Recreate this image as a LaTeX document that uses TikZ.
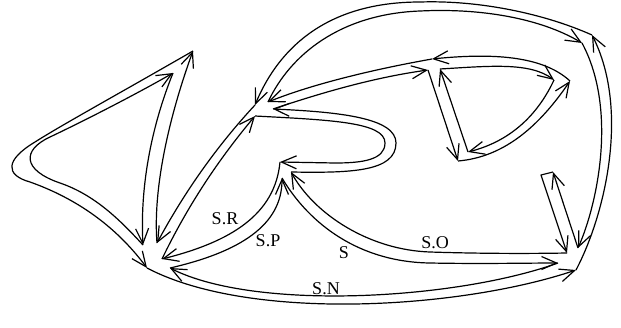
\documentclass[tikz,border=0pt]{standalone}
\usepackage{fontspec}
\setmainfont{Liberation Serif}
\usetikzlibrary{arrows.meta}

\begin{document}
\begin{tikzpicture}[x=1pt,y=-1pt,line width=1.2pt,line join=round,
  >={Straight Barb[length=15pt,width=13pt]},
  lbl/.style={font=\fontsize{18}{21}\selectfont,inner sep=0pt}]

  \useasboundingbox (0,0) rectangle (621,327);

  % corners at the vertices
  \coordinate (Ao1) at (147,268);
  \coordinate (Al) at (143,245);
  \coordinate (Ao2) at (157,243);
  \coordinate (A3) at (162,259);
  \coordinate (A4) at (170,268);
  \coordinate (Bo) at (193,51);
  \coordinate (Bl) at (173,73);
  \coordinate (Co) at (255,105);
  \coordinate (C5a) at (268,102);
  \coordinate (C5b) at (273,109);
  \coordinate (C3) at (255,116);
  \coordinate (D3) at (280,162);
  \coordinate (D4) at (282,178);
  \coordinate (D5) at (291,172);
  \coordinate (E5a) at (432,59);
  \coordinate (E5b) at (428,70);
  \coordinate (E6) at (440,69);
  \coordinate (Fo) at (592,35);
  \coordinate (F5) at (582,43);
  \coordinate (G6) at (554,80);
  \coordinate (G5) at (570,81);
  \coordinate (H5) at (458,161);
  \coordinate (H6) at (468,152);
  \coordinate (I5a) at (578,248);
  \coordinate (I5b) at (567,253);
  \coordinate (I4) at (558,263);
  \coordinate (Io) at (576,270);
  \coordinate (Jr) at (553,172);
  \coordinate (Jl) at (541,175);

  % outer face
  \draw[->] (Io) .. controls (605,215) and (630,110) .. (Fo);
  \draw[->] (Fo) .. controls (545,14) and (480,0) .. (420,2) .. controls (330,2) and (280,45) .. (Co);
  \draw[->] (Co) .. controls (216,147) and (184,193) .. (Ao2);
  \draw[->] (Ao2) .. controls (152,180) and (175,100) .. (Bo);
  \draw[->] (Bo) .. controls (120,93) and (60,126) .. (35,142) .. controls (5,160) and (5,175) .. (30,182)
    .. controls (75,198) and (115,225) .. (Ao1);
  \draw[->] (Ao1) .. controls (250,322) and (460,309) .. (Io);

  % inside the left loop
  \draw[->] (Al) .. controls (120,220) and (95,195) .. (60,183) .. controls (22,170) and (22,150) .. (50,137)
    .. controls (90,118) and (140,92) .. (Bl);
  \draw[->] (Bl) .. controls (150,130) and (140,190) .. (Al);

  % face of S.R
  \draw[->] (A3) .. controls (187,207) and (218,160) .. (C3);
  \draw[->] (C3) .. controls (330,120) and (385,122) .. (385,143) .. controls (385,160) and (362,163) .. (335,163) -- (D3);
  \draw[->] (D3) .. controls (275,215) and (230,242) .. (A3);

  % face of S.P, S, S.N
  \draw[->] (I4) .. controls (455,300) and (255,311) .. (A4);
  \draw[->] (A4) .. controls (240,252) and (282,225) .. (D4);
  \draw[->] (D4) .. controls (310,225) and (360,262) .. (430,263) .. controls (480,264) and (530,263) .. (I4);

  % face of S.O
  \draw[->] (C5a) .. controls (290,55) and (340,14) .. (420,11) .. controls (480,8) and (540,18) .. (F5);
  \draw[->] (F5) .. controls (618,110) and (597,205) .. (I5a);
  \draw[->] (I5a) -- (Jr);
  \draw[->] (Jr) -- (Jl) -- (I5b);
  \draw[->] (I5b) .. controls (510,254) and (460,253) .. (430,252) .. controls (370,250) and (315,215) .. (D5);
  \draw[->] (D5) .. controls (350,173) and (396,172) .. (396,143) .. controls (396,118) and (340,112) .. (C5b);
  \draw[->] (C5b) .. controls (315,95) and (370,78) .. (E5b);
  \draw[->] (E5b) -- (H5);
  \draw[->] (H5) .. controls (505,157) and (540,125) .. (G5);
  \draw[->] (G5) .. controls (545,58) and (500,52) .. (E5a);
  \draw[->] (E5a) .. controls (370,70) and (310,85) .. (C5a);

  % inside the D
  \draw[->] (E6) .. controls (490,66) and (530,62) .. (G6);
  \draw[->] (G6) .. controls (540,110) and (515,140) .. (H6);
  \draw[->] (H6) -- (E6);

  \node[lbl] (sr) at (225,219) {S.R};
  \node[lbl] (sp) at (268,241) {S.P};
  \node[lbl] (s) at (344,253) {S};
  \node[lbl] (so) at (435,243) {S.O};
  \node[lbl] (sn) at (326,289) {S.N};

\end{tikzpicture}
\end{document}
